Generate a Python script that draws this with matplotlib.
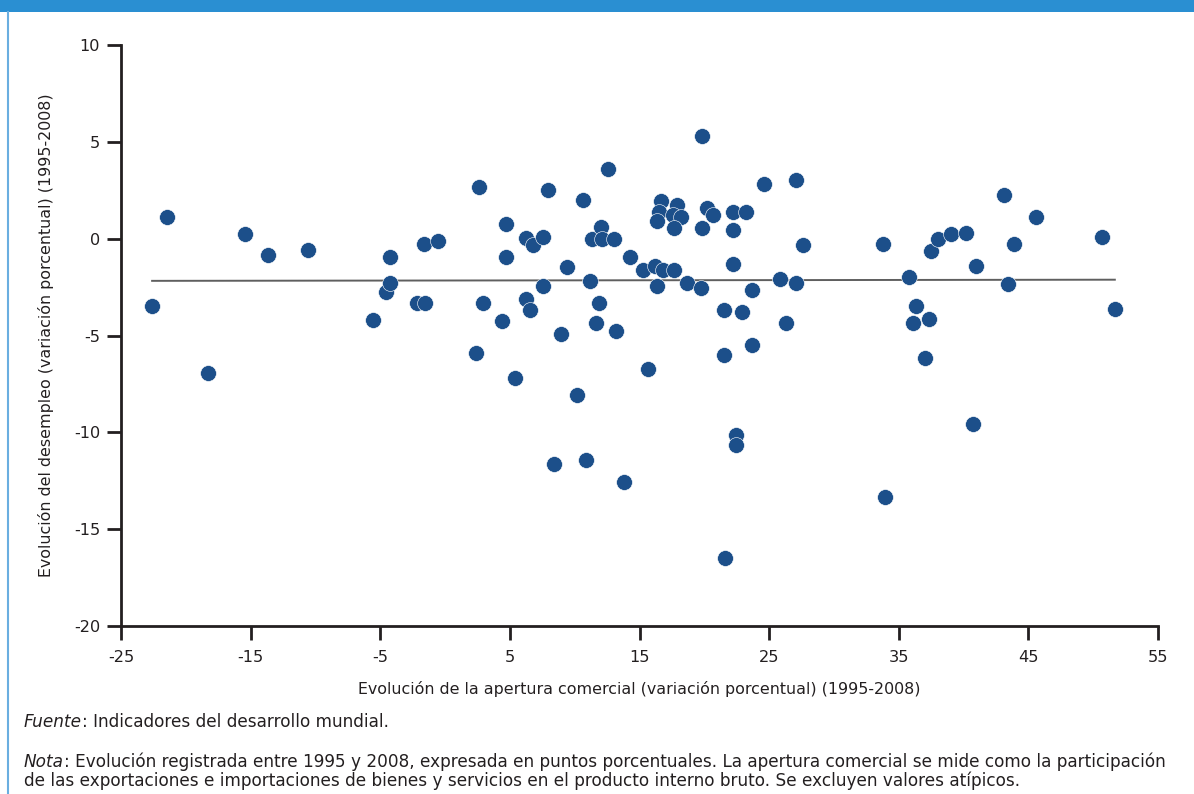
import matplotlib
matplotlib.use("Agg")
import matplotlib.pyplot as plt
from matplotlib.patches import Rectangle
from matplotlib.lines import Line2D
import numpy as np

plt.rcParams['font.family'] = ['DejaVu Sans']

# Data: apertura comercial (x) vs desempleo (y)
apertura = [
    -22.6, -21.45, -18.3, -15.4, -13.65, -10.6, -5.55, -4.55, -4.24, -4.24,
    -2.16, -1.54, -1.6, -0.54,
    2.39, 2.6, 2.9, 4.4, 4.68, 4.68, 5.43, 6.25, 6.27, 6.56,
    6.76, 7.56, 7.58, 7.92, 8.92, 8.44, 9.43, 10.16, 10.65, 10.9,
    11.19, 11.36, 11.68, 11.9, 12.04, 12.1, 12.58, 13.06, 13.15, 13.84,
    14.3, 15.3, 15.66, 16.2, 16.38, 16.84,
    16.67, 17.9, 16.5, 17.6, 18.2, 16.36, 17.67,
    17.7, 18.7, 19.72, 19.85, 19.83, 20.2, 20.7, 21.55, 21.55, 21.58,
    22.2, 22.2, 22.2, 22.42, 22.42, 22.9, 23.2, 23.7, 23.7, 24.6,
    25.85, 26.33, 27.05, 27.1, 27.6,
    33.8, 33.95, 35.8, 36.1, 36.3, 37.0, 37.3, 37.5, 38.04, 39.0,
    40.2, 40.74, 40.97, 43.13, 43.4, 43.9, 45.6, 50.65, 51.67,
]
desempleo = [
    -3.5, 1.12, -6.93, 0.26, -0.84, -0.57, -4.2, -2.75, -0.93, -2.29,
    -3.32, -3.32, -0.26, -0.1,
    -5.88, 2.68, -3.34, -4.25, 0.76, -0.96, -7.21, 0.02, -3.1, -3.7,
    -0.31, -2.44, 0.1, 2.49, -4.92, -11.62, -1.44, -8.07, 2.01, -11.43,
    -2.18, 0.0, -4.35, -3.34, 0.59, 0.0, 3.6, 0.0, -4.78, -12.56,
    -0.93, -1.63, -6.74, -1.39, -2.42, -1.63,
    1.95, 1.74, 1.38, 1.22, 1.12, 0.91, 0.55,
    -1.63, -2.3, -2.53, 5.32, 0.57, 1.6, 1.24, -3.67, -5.99, -16.48,
    1.4, 0.43, -1.29, -10.13, -10.63, -3.8, 1.4, -2.65, -5.47, 2.84,
    -2.1, -4.35, 3.03, -2.3, -0.35,
    -0.26, -13.34, -1.98, -4.35, -3.46, -6.14, -4.15, -0.62, 0.0, 0.24,
    0.31, -9.57, -1.43, 2.26, -2.32, -0.26, 1.1, 0.07, -3.63,
]

# Linear trend
trend_intercept = -2.16
trend_slope = 0.0008

x_ticks = [-25, -15, -5, 5, 15, 25, 35, 45, 55]
y_ticks = [10, 5, 0, -5, -10, -15, -20]

x_label = "Evolución de la apertura comercial (variación porcentual) (1995-2008)"
y_label = "Evolución del desempleo (variación porcentual) (1995-2008)"
fuente_label = "Fuente"
fuente_text = ": Indicadores del desarrollo mundial."
nota_label = "Nota"
nota_text1 = (": Evolución registrada entre 1995 y 2008, expresada en puntos porcentuales. "
              "La apertura comercial se mide como la participación")
nota_text2 = ("de las exportaciones e importaciones de bienes y servicios en el producto "
              "interno bruto. Se excluyen valores atípicos.")

W, H = 1194, 794
fig = plt.figure(figsize=(W / 100, H / 100), dpi=100)

TXT = "#231f20"

# frame decorations
fig.patches.append(Rectangle((0, 1 - 12 / H), 1, 12 / H, transform=fig.transFigure,
                             facecolor="#2a8fd2", edgecolor="none", zorder=0))
fig.lines.append(Line2D([8 / W, 8 / W], [0, 1 - 12 / H], transform=fig.transFigure,
                        color="#6aaee0", linewidth=1.5))

ax = fig.add_axes([121 / W, 1 - 626 / H, (1158 - 121) / W, (626 - 45) / H])

xs = np.array(apertura)
ys = np.array(desempleo)
ax.scatter(xs, ys, s=130, color="#1c4f8a", edgecolors="white", linewidths=0.4, zorder=3)

xl = np.array([xs.min(), xs.max()])
ax.plot(xl, trend_intercept + trend_slope * xl, color="#5f5f5f", linewidth=1.4, zorder=2)

ax.set_xlim(-25, 55)
ax.set_ylim(-20, 10)
ax.set_xticks(x_ticks)
ax.set_yticks(y_ticks)
ax.set_xticklabels([str(t) for t in x_ticks])
ax.set_yticklabels([str(t) for t in y_ticks])

for side in ["top", "right"]:
    ax.spines[side].set_visible(False)
for side in ["left", "bottom"]:
    ax.spines[side].set_linewidth(2.0)
    ax.spines[side].set_color(TXT)
ax.tick_params(axis="both", direction="out", length=10, width=2.0, color=TXT,
               labelsize=11.6, labelcolor=TXT)
ax.tick_params(axis="x", pad=7)
ax.tick_params(axis="y", pad=5)

ax.set_xlabel(x_label, fontsize=11.4, color=TXT, labelpad=12)
ax.set_ylabel(y_label, fontsize=11.4, color=TXT, labelpad=14)

# footnotes
renderer = fig.canvas.get_renderer()
FS = 12.2
def rich(x_px, y_px, label, text):
    t1 = fig.text(x_px / W, 1 - y_px / H, label, fontsize=FS, fontstyle="italic",
                  color=TXT, va="center", ha="left")
    bb = t1.get_window_extent(renderer=renderer)
    fig.text(bb.x1 / W, 1 - y_px / H, text, fontsize=FS, color=TXT,
             va="center", ha="left")

rich(24, 722, fuente_label, fuente_text)
rich(24, 762, nota_label, nota_text1)
fig.text(24 / W, 1 - 781 / H, nota_text2, fontsize=FS, color=TXT, va="center", ha="left")

fig.savefig("out.png", dpi=100)
